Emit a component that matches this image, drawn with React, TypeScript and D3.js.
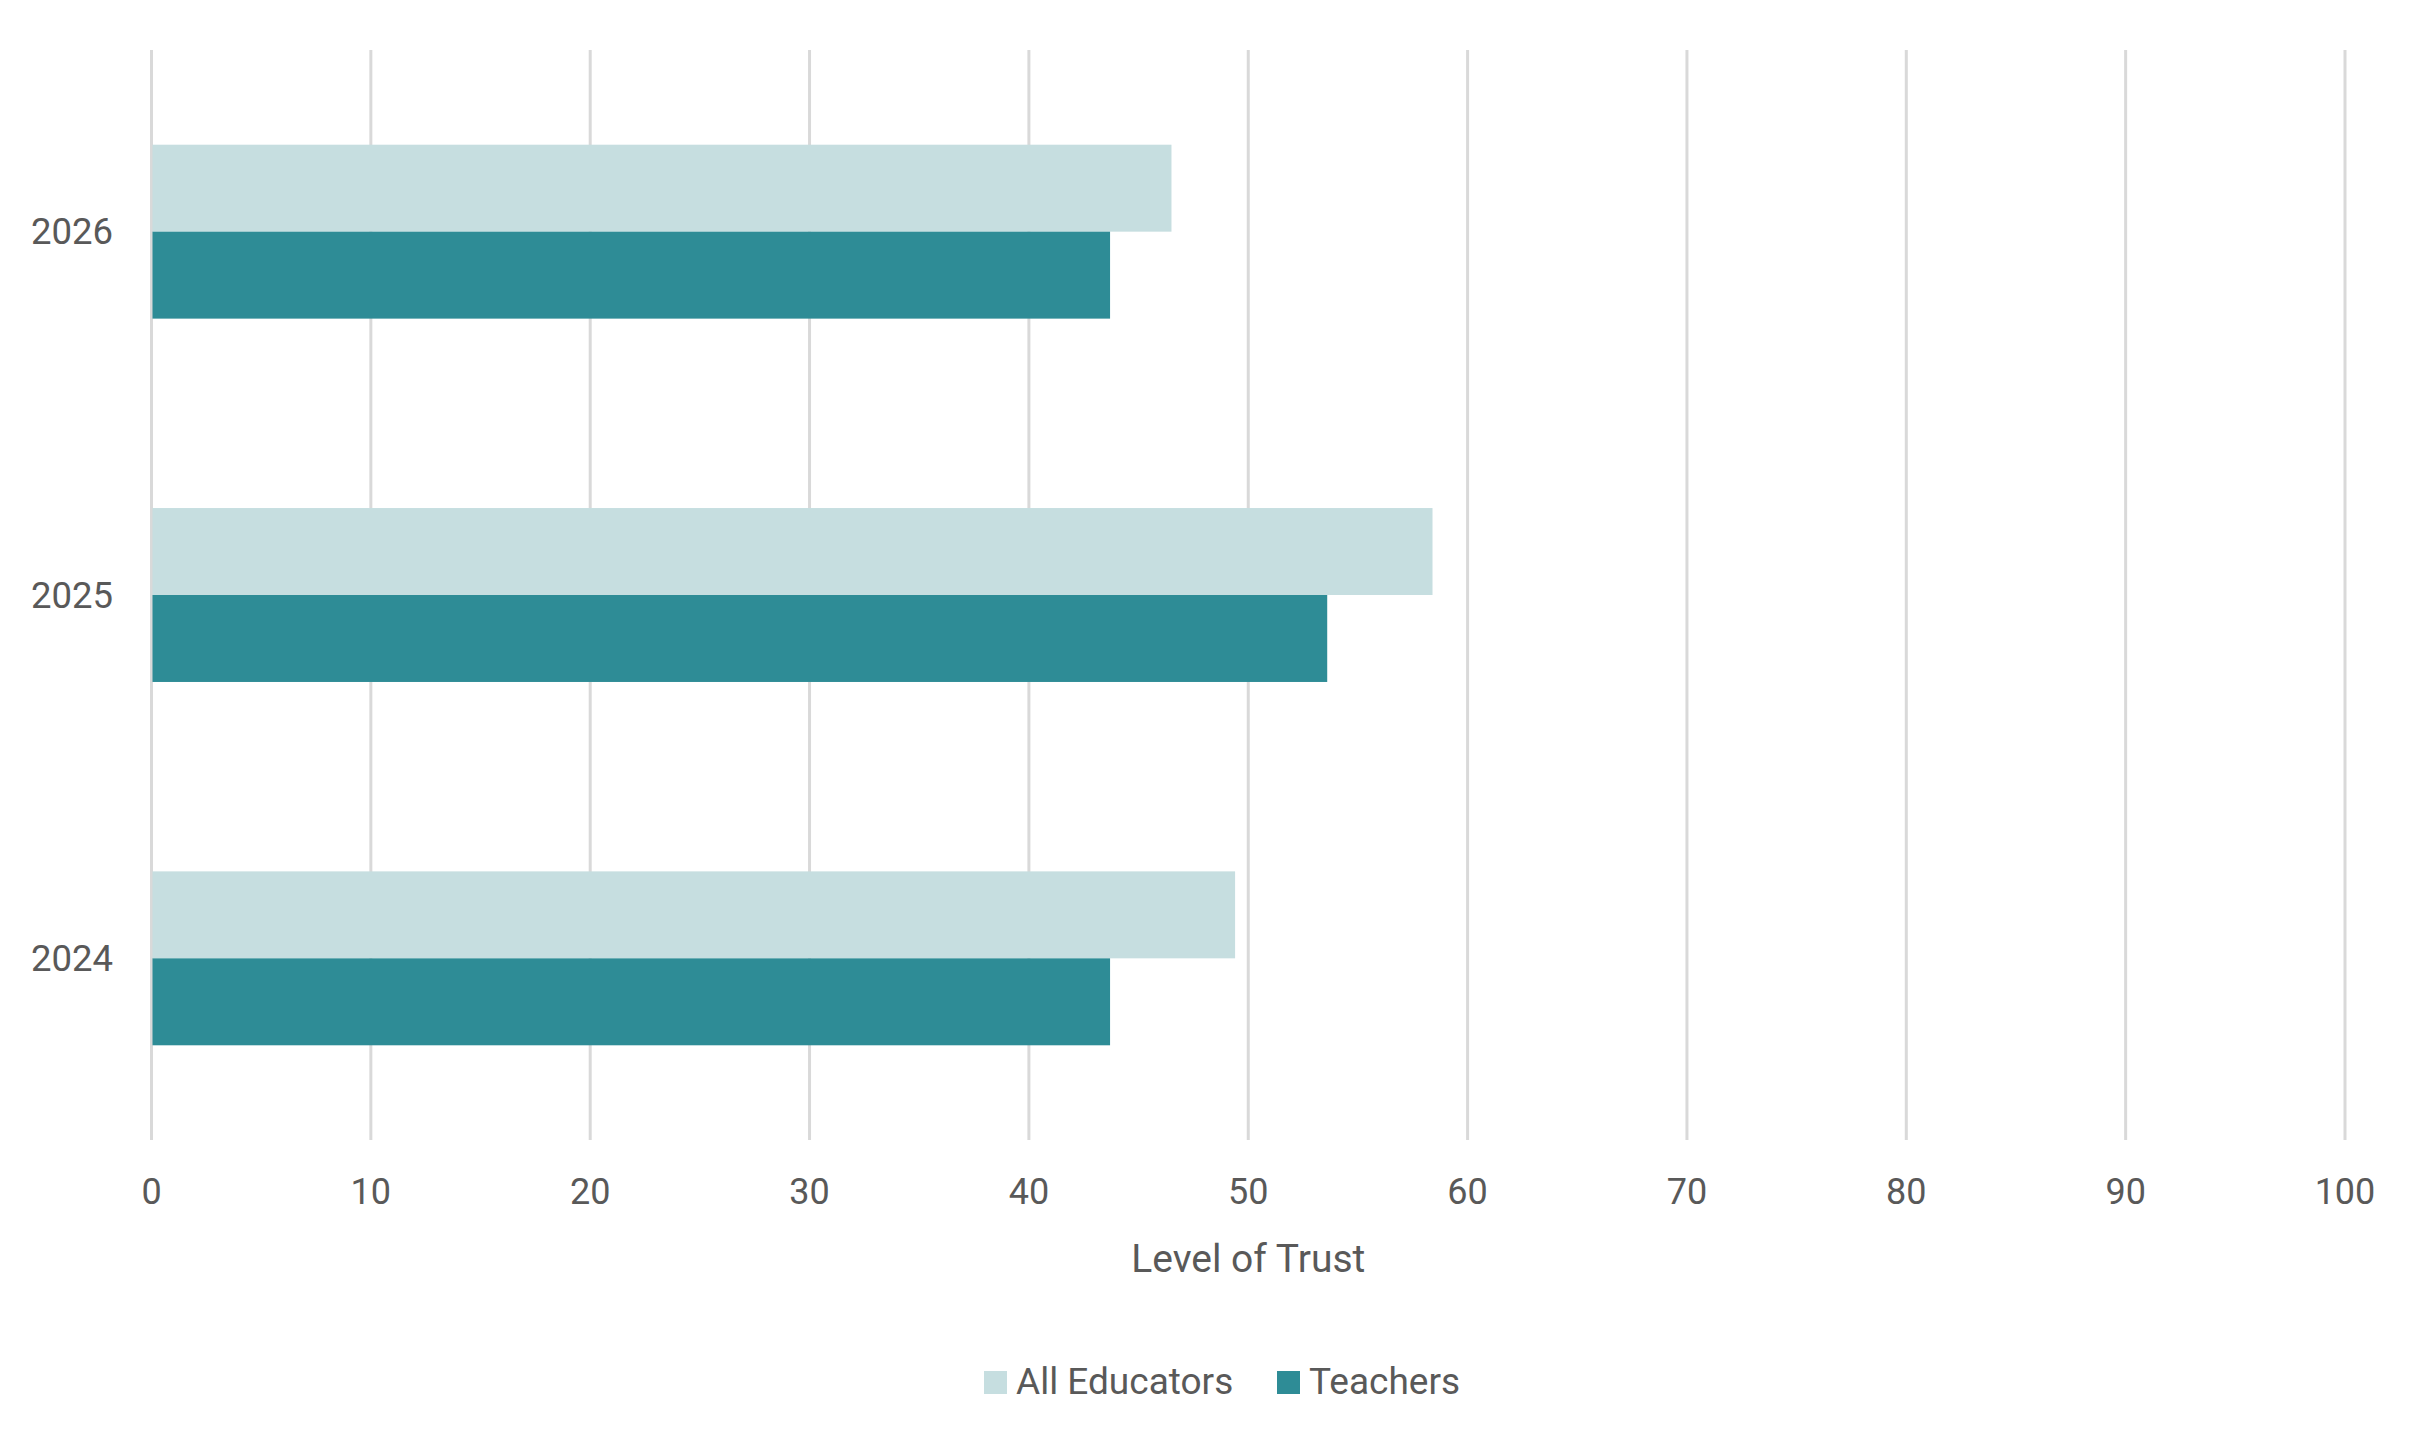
import React from "react";
import * as d3 from "d3";

const categories = ["2026", "2025", "2024"];
const seriesNames = ["All Educators", "Teachers"];
const allEducators = [46.5, 58.4, 49.4];
const teachers = [43.7, 53.6, 43.7];
const xTicks = [0, 10, 20, 30, 40, 50, 60, 70, 80, 90, 100];
const xTitle = "Level of Trust";
const colors = ["#C6DEE0", "#2E8C96"];

const W = 2427;
const H = 1449;
const FONT = "Roboto, 'Open Sans', sans-serif";
const TEXT = "#595959";

export default function App() {
  const plot = { left: 151.5, right: 2345, top: 50, bottom: 1140 };
  const x = d3.scaleLinear().domain([0, 100]).range([plot.left, plot.right]);
  const y = d3.scaleBand().domain(categories).range([plot.top, plot.bottom]).padding(0);
  const groupFrac = 0.4787;
  const values = [allEducators, teachers];

  const legendItems = [
    { name: seriesNames[0], color: colors[0], sx: 984, tx: 1016 },
    { name: seriesNames[1], color: colors[1], sx: 1277, tx: 1309 },
  ];

  return (
    <svg
      width={W}
      height={H}
      style={{ position: "absolute", left: 0, top: 0, display: "block", background: "#fff" }}
      fontFamily={FONT}
    >
      <rect x={0} y={0} width={W} height={H} fill="#fff" />
      {xTicks.map((t) => (
        <line
          key={"g" + t}
          x1={x(t)}
          x2={x(t)}
          y1={plot.top}
          y2={plot.bottom}
          stroke="#D9D9D9"
          strokeWidth={3}
        />
      ))}
      {categories.map((c, i) => {
        const center = (y(c) as number) + y.bandwidth() / 2;
        const half = (y.bandwidth() * groupFrac) / 2;
        const sub = d3.scaleBand().domain(seriesNames).range([center - half, center + half]);
        return (
          <g key={c}>
            {seriesNames.map((s, j) => (
              <rect
                key={s}
                x={x(0) + 1}
                y={sub(s) as number}
                width={x(values[j][i]) - x(0) - 1}
                height={sub.bandwidth()}
                fill={colors[j]}
              />
            ))}
            <text
              x={113}
              y={center}
              textAnchor="end"
              dominantBaseline="central"
              fontSize={36.5}
              fill={TEXT}
            >
              {c}
            </text>
          </g>
        );
      })}
      {xTicks.map((t) => (
        <text key={"t" + t} x={x(t)} y={1204} textAnchor="middle" fontSize={36} fill={TEXT}>
          {t}
        </text>
      ))}
      <text x={x(50)} y={1272} textAnchor="middle" fontSize={39} fill={TEXT}>
        {xTitle}
      </text>
      {legendItems.map((l) => (
        <g key={l.name}>
          <rect x={l.sx} y={1371} width={23} height={23} fill={l.color} />
          <text x={l.tx} y={1394} fontSize={37} fill={TEXT}>
            {l.name}
          </text>
        </g>
      ))}
    </svg>
  );
}
